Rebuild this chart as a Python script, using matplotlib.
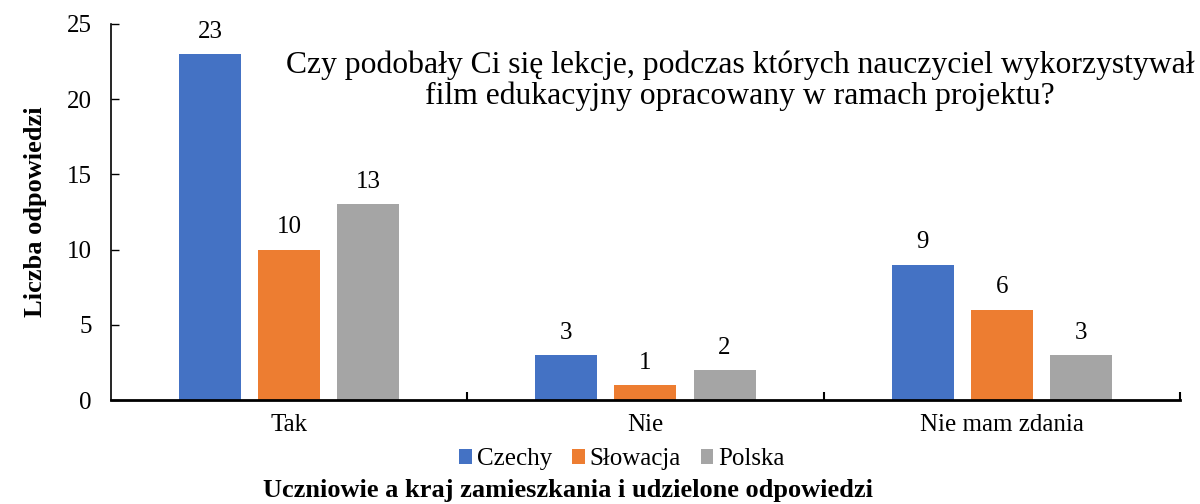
import numpy as np
import matplotlib.pyplot as plt

categories = ["Tak", "Nie", "Nie mam zdania"]
series_names = ["Czechy", "Słowacja", "Polska"]
czechy = [23, 3, 9]
slowacja = [10, 1, 6]
polska = [13, 2, 3]
colors = ["#4472C4", "#ED7D31", "#A5A5A5"]

plt.rcParams['font.family'] = ['Liberation Serif', 'DejaVu Serif']

fig = plt.figure(figsize=(12, 5.04), dpi=100)
ax = fig.add_axes([0.0925, 0.2063, 0.8908, 0.7461])

x = np.arange(len(categories))
width = 0.174
step = 0.222
for i, (vals, name) in enumerate(zip([czechy, slowacja, polska], series_names)):
    bars = ax.bar(x + (i - 1) * step, vals, width, color=colors[i], label=name)
    for b, v in zip(bars, vals):
        ax.text(b.get_x() + b.get_width() / 2, v + 0.75, str(v),
                ha='center', va='bottom', fontsize=18)

ax.set_xlim(-0.5, 2.5)
ax.set_ylim(0, 25)
ax.set_yticks(range(0, 26, 5))
ax.set_xticks(x)
ax.set_xticklabels(categories, fontsize=18)
ax.tick_params(axis='x', length=0, pad=10)
ax.set_xticks([0.5, 1.5, 2.5], minor=True)
ax.tick_params(axis='x', which='minor', direction='in', length=6, width=1.5)
ax.tick_params(axis='y', direction='in', length=6, width=1, labelsize=18, pad=14)
ax.spines['top'].set_visible(False)
ax.spines['right'].set_visible(False)
ax.spines['bottom'].set_linewidth(2)
ax.spines['left'].set_linewidth(1.2)

ax.set_ylabel("Liczba odpowiedzi", fontsize=19, fontweight='bold', labelpad=14)
fig.text(0.473, 0.003, "Uczniowie a kraj zamieszkania i udzielone odpowiedzi",
         ha='center', va='bottom', fontsize=19, fontweight='bold')

fig.text(0.6165, 0.84, "Czy podobały Ci się lekcje, podczas których nauczyciel wykorzystywał\n"
         "film edukacyjny opracowany w ramach projektu?",
         ha='center', va='center', fontsize=22.8, multialignment='center', linespacing=1.1)

ax.legend(loc='center', bbox_to_anchor=(0.478, -0.158), ncol=3, frameon=False,
          fontsize=18, handlelength=0.5, handleheight=0.5, handletextpad=0.2,
          columnspacing=0.8)

fig.savefig("out.png", dpi=100)
